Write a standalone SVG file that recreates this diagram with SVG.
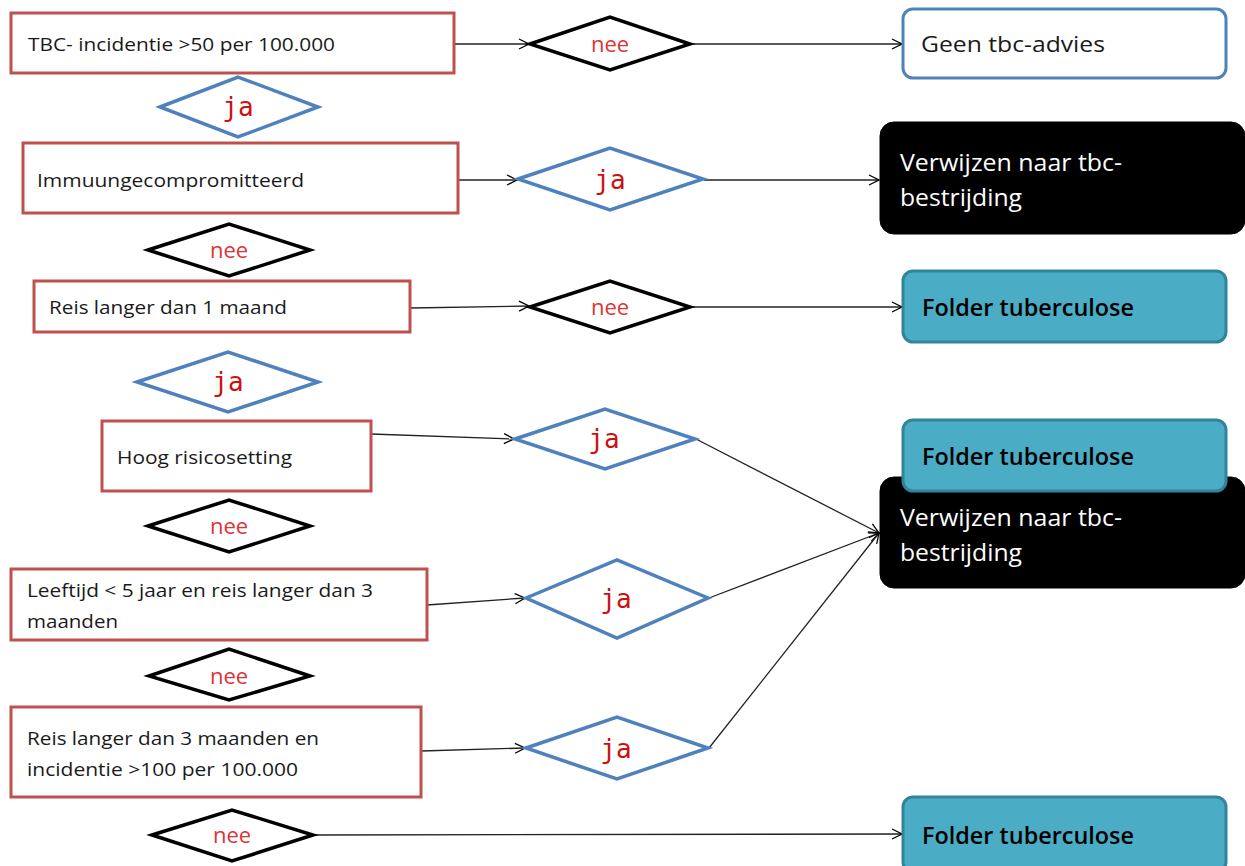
<svg xmlns="http://www.w3.org/2000/svg" width="1245" height="866" viewBox="0 0 1245 866">
<defs>
<marker id="arr" viewBox="0 0 12 12" refX="11" refY="6" markerWidth="12" markerHeight="12" markerUnits="userSpaceOnUse" orient="auto">
<path d="M1,1 L11,6 L1,11" fill="none" stroke="#000" stroke-width="1.3"/>
</marker>
<style>
.cond{fill:#fff;stroke:#C0504D;stroke-width:3}
.dj{fill:#fff;stroke:#4F81BD;stroke-width:3.5}
.dn{fill:#fff;stroke:#000;stroke-width:3.5}
.t{font-family:"Open Sans","Liberation Sans",sans-serif;font-size:18.5px;fill:#1a1a1a}
.ja{font-family:"DejaVu Sans Mono","Liberation Mono",monospace;font-size:26px;fill:#CC1111;text-anchor:middle}
.nee{font-family:"Open Sans","Liberation Sans",sans-serif;font-size:22px;fill:#E03333;text-anchor:middle}
.fold{fill:#4BACC6;stroke:#31849B;stroke-width:3}
.ft{font-family:"Open Sans","Liberation Sans",sans-serif;font-size:22.5px;font-weight:600;fill:#000}
.blk{fill:#000;stroke:#000}
.bt{font-family:"Open Sans","Liberation Sans",sans-serif;font-size:24px;fill:#fff}
.c{fill:none;stroke:#222;stroke-width:1.3}
</style>
</defs>

<g id="connectors">
<line class="c" x1="454" y1="44" x2="529" y2="44" marker-end="url(#arr)"/>
<line class="c" x1="691" y1="44" x2="902" y2="44" marker-end="url(#arr)"/>
<line class="c" x1="458" y1="180" x2="517" y2="180" marker-end="url(#arr)"/>
<line class="c" x1="704" y1="180" x2="879" y2="180" marker-end="url(#arr)"/>
<line class="c" x1="410" y1="308" x2="529" y2="306" marker-end="url(#arr)"/>
<line class="c" x1="691" y1="307" x2="902" y2="307" marker-end="url(#arr)"/>
<line class="c" x1="371" y1="434" x2="514" y2="439" marker-end="url(#arr)"/>
<line class="c" x1="696" y1="439" x2="879" y2="533" marker-end="url(#arr)"/>
<line class="c" x1="427" y1="605" x2="525" y2="598" marker-end="url(#arr)"/>
<line class="c" x1="709" y1="598" x2="879" y2="533" marker-end="url(#arr)"/>
<line class="c" x1="421" y1="751" x2="525" y2="748" marker-end="url(#arr)"/>
<line class="c" x1="709" y1="748" x2="879" y2="533" marker-end="url(#arr)"/>
<line class="c" x1="313" y1="835" x2="902" y2="834" marker-end="url(#arr)"/>
</g>

<g id="box1"><rect class="cond" x="11" y="13" width="443" height="60"/><text class="t" x="28" y="51" textLength="307" lengthAdjust="spacingAndGlyphs">TBC- incidentie &gt;50 per 100.000</text></g>
<g id="ja1"><polygon class="dj" points="160,107 238,77 318,107 238,137"/><text class="ja" x="238" y="116">ja</text></g>
<g id="nee1"><polygon class="dn" points="530,44 610,17 690,44 610,70"/><text class="nee" x="610" y="52">nee</text></g>
<g id="geen"><rect x="903" y="9" width="323" height="69" rx="10" fill="#fff" stroke="#4F81BD" stroke-width="3"/><text class="t" x="921" y="52" style="font-size:22px" textLength="184" lengthAdjust="spacingAndGlyphs">Geen tbc-advies</text></g>

<g id="box2"><rect class="cond" x="23" y="143" width="435" height="70"/><text class="t" x="37" y="187" textLength="267" lengthAdjust="spacingAndGlyphs">Immuungecompromitteerd</text></g>
<g id="ja2"><polygon class="dj" points="518,179 610,148 703,179 610,210"/><text class="ja" x="610" y="189">ja</text></g>
<g id="verwijzen1"><rect class="blk" x="880" y="122" width="365" height="112" rx="14"/><text class="bt" x="900" y="171" textLength="222" lengthAdjust="spacingAndGlyphs">Verwijzen naar tbc-</text><text class="bt" x="900" y="206" textLength="122" lengthAdjust="spacingAndGlyphs">bestrijding</text></g>
<g id="nee2"><polygon class="dn" points="148,250 229,224 310,250 229,276"/><text class="nee" x="229" y="258">nee</text></g>

<g id="box3"><rect class="cond" x="34" y="281" width="376" height="51"/><text class="t" x="49" y="314" textLength="238" lengthAdjust="spacingAndGlyphs">Reis langer dan 1 maand</text></g>
<g id="nee3"><polygon class="dn" points="530,307 610,281 690,307 610,333"/><text class="nee" x="610" y="315">nee</text></g>
<g id="folder1"><rect class="fold" x="903" y="271" width="323" height="71" rx="10"/><text class="ft" x="922" y="316" textLength="212" lengthAdjust="spacingAndGlyphs">Folder tuberculose</text></g>
<g id="ja3"><polygon class="dj" points="137,382 228,352 318,382 228,412"/><text class="ja" x="228" y="391">ja</text></g>

<g id="box4"><rect class="cond" x="102" y="421" width="269" height="70"/><text class="t" x="117" y="464" textLength="175" lengthAdjust="spacingAndGlyphs">Hoog risicosetting</text></g>
<g id="ja4"><polygon class="dj" points="515,439 605,409 695,439 605,469"/><text class="ja" x="604" y="448">ja</text></g>
<g id="verwijzen2"><rect class="blk" x="880" y="477" width="365" height="111" rx="14"/><text class="bt" x="900" y="526" textLength="222" lengthAdjust="spacingAndGlyphs">Verwijzen naar tbc-</text><text class="bt" x="900" y="561" textLength="122" lengthAdjust="spacingAndGlyphs">bestrijding</text></g>
<g id="folder2"><rect class="fold" x="903" y="420" width="323" height="71" rx="10"/><text class="ft" x="922" y="465" textLength="212" lengthAdjust="spacingAndGlyphs">Folder tuberculose</text></g>
<g id="nee4"><polygon class="dn" points="148,526 229,500 310,526 229,552"/><text class="nee" x="229" y="534">nee</text></g>

<g id="box5"><rect class="cond" x="11" y="569" width="416" height="71"/><text class="t" x="27" y="597" textLength="346" lengthAdjust="spacingAndGlyphs">Leeftijd &lt; 5 jaar en reis langer dan 3</text><text class="t" x="27" y="628" textLength="91" lengthAdjust="spacingAndGlyphs">maanden</text></g>
<g id="ja5"><polygon class="dj" points="526,598 617,560 708,598 617,638"/><text class="ja" x="616" y="608">ja</text></g>
<g id="nee5"><polygon class="dn" points="149,676 229,649 310,676 229,700"/><text class="nee" x="229" y="684">nee</text></g>

<g id="box6"><rect class="cond" x="11" y="707" width="410" height="90"/><text class="t" x="27" y="745" textLength="292" lengthAdjust="spacingAndGlyphs">Reis langer dan 3 maanden en</text><text class="t" x="27" y="776" textLength="271" lengthAdjust="spacingAndGlyphs">incidentie &gt;100 per 100.000</text></g>
<g id="ja6"><polygon class="dj" points="526,748 617,717 708,748 617,779"/><text class="ja" x="616" y="758">ja</text></g>
<g id="nee6"><polygon class="dn" points="152,835 232,810 313,835 232,861"/><text class="nee" x="232" y="843">nee</text></g>
<g id="folder3"><rect class="fold" x="903" y="797" width="323" height="75" rx="10"/><text class="ft" x="922" y="844" textLength="212" lengthAdjust="spacingAndGlyphs">Folder tuberculose</text></g>
</svg>
